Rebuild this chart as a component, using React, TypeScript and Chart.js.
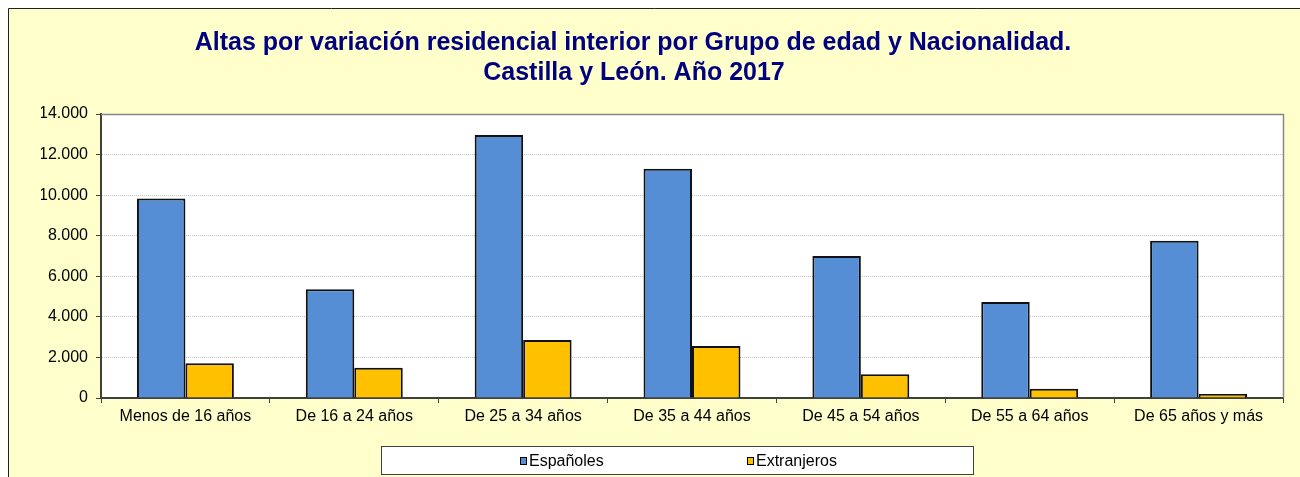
import React, { useEffect, useRef } from "react";
import { Chart, registerables } from "chart.js";

Chart.register(...registerables);

const categories = [
  "Menos de 16 años",
  "De 16 a 24 años",
  "De 25 a 34 años",
  "De 35 a 44 años",
  "De 45 a 54 años",
  "De 55 a 64 años",
  "De 65 años y más",
];
const seriesNames = ["Españoles", "Extranjeros"];
const espanoles = [9830, 5360, 12960, 11300, 7000, 4730, 7750];
const extranjeros = [1710, 1495, 2860, 2565, 1165, 460, 200];
const yTicks = [0, 2000, 4000, 6000, 8000, 10000, 12000, 14000];
const titleLines = [
  "Altas por variación residencial interior por Grupo de edad y Nacionalidad.",
  "Castilla y León. Año 2017",
];

const BLUE = "#558ED5";
const GOLD = "#FFC000";
const FONT = '"Liberation Sans", Arial, sans-serif';

const fmt = (v: number) => String(v).replace(/\B(?=(\d{3})+(?!\d))/g, ".");

const decor = {
  id: "decor",
  beforeDraw(chart: any) {
    const { ctx, chartArea: a, width, height } = chart;
    ctx.save();
    ctx.fillStyle = "#FFFFFF";
    ctx.fillRect(0, 0, width, height);
    ctx.fillStyle = "#FFFFCC";
    ctx.fillRect(8, 8, width - 8, height - 8);
    ctx.strokeStyle = "#202020";
    ctx.lineWidth = 1;
    ctx.beginPath();
    ctx.moveTo(8.5, height);
    ctx.lineTo(8.5, 8.5);
    ctx.lineTo(width, 8.5);
    ctx.stroke();
    ctx.fillStyle = "#FFFFFF";
    ctx.fillRect(a.left, a.top, a.right - a.left, a.bottom - a.top);
    ctx.restore();
  },
  afterDraw(chart: any) {
    const { ctx, chartArea: a } = chart;
    ctx.save();
    // plot top / right border
    ctx.strokeStyle = "#888888";
    ctx.lineWidth = 1.5;
    ctx.beginPath();
    ctx.moveTo(Math.round(a.left), Math.round(a.top) + 0.5);
    ctx.lineTo(Math.round(a.right) + 0.5, Math.round(a.top) + 0.5);
    ctx.lineTo(Math.round(a.right) + 0.5, Math.round(a.bottom));
    ctx.stroke();

    // title
    ctx.fillStyle = "#000080";
    ctx.font = `bold 25px ${FONT}`;
    ctx.textAlign = "center";
    ctx.textBaseline = "alphabetic";
    ctx.fillText(titleLines[0], 633, 50);
    ctx.fillText(titleLines[1], 634, 80);

    // legend
    ctx.fillStyle = "#FFFFFF";
    ctx.fillRect(381, 446, 593, 29);
    ctx.strokeStyle = "#404040";
    ctx.lineWidth = 1;
    ctx.strokeRect(381.5, 446.5, 592, 28);
    const items = [
      { x: 520, color: chart.data.datasets[0].backgroundColor, label: chart.data.datasets[0].label },
      { x: 747, color: chart.data.datasets[1].backgroundColor, label: chart.data.datasets[1].label },
    ];
    ctx.font = `16px ${FONT}`;
    ctx.textAlign = "left";
    ctx.textBaseline = "middle";
    items.forEach((it) => {
      ctx.fillStyle = it.color;
      ctx.fillRect(it.x, 457, 7, 8);
      ctx.strokeStyle = "#000000";
      ctx.strokeRect(it.x + 0.5, 457.5, 6, 7);
      ctx.fillStyle = "#000000";
      ctx.fillText(it.label, it.x + 9, 462);
    });
    ctx.restore();
  },
};

export default function App() {
  const ref = useRef<HTMLCanvasElement | null>(null);
  useEffect(() => {
    if (!ref.current) return;
    const chart = new Chart(ref.current, {
      type: "bar",
      data: {
        labels: categories,
        datasets: [
          {
            label: seriesNames[0],
            data: espanoles,
            backgroundColor: BLUE,
            borderColor: "#111111",
            borderWidth: 2,
            categoryPercentage: 0.574,
            barPercentage: 1,
          },
          {
            label: seriesNames[1],
            data: extranjeros,
            backgroundColor: GOLD,
            borderColor: "#111111",
            borderWidth: 2,
            categoryPercentage: 0.574,
            barPercentage: 1,
          },
        ],
      },
      options: {
        animation: false,
        responsive: false,
        layout: { padding: { left: 41, right: 17, top: 114, bottom: 44 } },
        plugins: {
          legend: { display: false },
          title: { display: false },
          tooltip: { enabled: false },
        },
        scales: {
          x: {
            offset: true,
            grid: {
              display: true,
              drawOnChartArea: false,
              drawTicks: true,
              tickLength: 5,
              color: "#404040",
              offset: true,
            },
            border: { display: true, color: "#404040", width: 2 },
            ticks: {
              color: "#000000",
              font: { family: FONT, size: 16 },
              padding: 4,
              maxRotation: 0,
              autoSkip: false,
            },
            afterFit: (s: any) => {
              s.height = 35;
            },
          },
          y: {
            min: 0,
            max: 14000,
            afterBuildTicks: (s: any) => {
              s.ticks = yTicks.map((v) => ({ value: v }));
            },
            grid: {
              color: "#C4C4C4",
              tickColor: "#404040",
              tickLength: 5,
              drawTicks: true,
            },
            border: { display: true, color: "#404040", width: 2, dash: [1, 1] },
            ticks: {
              color: "#000000",
              font: { family: FONT, size: 16 },
              padding: 8,
              callback: (v: any) => fmt(Number(v)),
            },
            afterFit: (s: any) => {
              s.width = 60;
            },
          },
        },
      },
      plugins: [decor],
    });
    return () => chart.destroy();
  }, []);
  return (
    <div style={{ position: "absolute", left: 0, top: 0, width: 1300, height: 477 }}>
      <canvas ref={ref} width={1300} height={477} style={{ display: "block" }} />
    </div>
  );
}
